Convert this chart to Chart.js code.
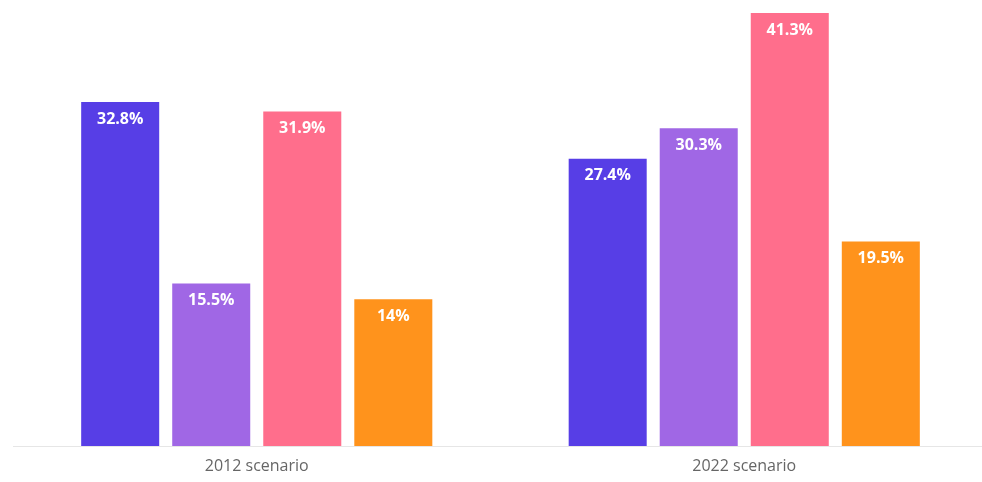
<!DOCTYPE html>
<html>
<head>
<meta charset="utf-8">
<script src="https://cdn.jsdelivr.net/npm/chart.js@4/dist/chart.umd.min.js"></script>
<style>
  html, body { margin: 0; padding: 0; background: #fff; overflow: hidden; }
  #wrap { width: 988px; height: 482px; position: relative; }
</style>
</head>
<body>
<div id="wrap"><canvas id="chart"></canvas></div>
<script>
  const categories = ['2012 scenario', '2022 scenario'];
  const seriesA = [32.8, 27.4];
  const seriesB = [15.5, 30.3];
  const seriesC = [31.9, 41.3];
  const seriesD = [14, 19.5];
  const colors = ['#573ee6', '#a067e5', '#ff6e8c', '#ff931c'];

  // draws the white value labels just inside the top of each bar
  const barLabels = {
    id: 'barLabels',
    afterDatasetsDraw(chart) {
      const ctx = chart.ctx;
      ctx.save();
      ctx.fillStyle = '#ffffff';
      ctx.font = 'bold 16px "Open Sans", sans-serif';
      ctx.textAlign = 'center';
      ctx.textBaseline = 'middle';
      chart.data.datasets.forEach((ds, i) => {
        chart.getDatasetMeta(i).data.forEach((bar, j) => {
          ctx.fillText(ds.data[j] + '%', bar.x, bar.y + 17);
        });
      });
      ctx.restore();
    }
  };

  new Chart(document.getElementById('chart'), {
    type: 'bar',
    data: {
      labels: categories,
      datasets: [seriesA, seriesB, seriesC, seriesD].map((d, i) => ({
        data: d,
        backgroundColor: colors[i],
        categoryPercentage: 0.747,
        barPercentage: 0.857,
      })),
    },
    options: {
      responsive: true,
      maintainAspectRatio: false,
      animation: false,
      layout: { padding: { left: 13, right: 0, top: 13, bottom: 0 } },
      plugins: { legend: { display: false }, tooltip: { enabled: false } },
      scales: {
        x: {
          grid: { display: false, drawTicks: false },
          border: { display: true, color: '#e6e6e6', width: 1 },
          afterFit: (s) => { s.height = 36; },
          ticks: {
            color: '#666',
            padding: 11,
            font: { family: '"Open Sans", sans-serif', size: 16 },
          },
        },
        y: {
          display: false,
          min: 0,
          max: 41.3,
        },
      },
    },
    plugins: [barLabels],
  });
</script>
</body>
</html>
